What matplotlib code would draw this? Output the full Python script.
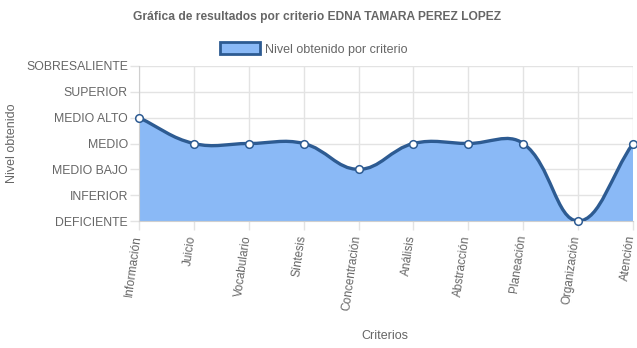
import numpy as np
import matplotlib.pyplot as plt
import matplotlib.transforms as mtransforms
from matplotlib.path import Path
from matplotlib.patches import PathPatch, Patch

plt.rcParams['font.family'] = ['Liberation Sans', 'DejaVu Sans']

# data
criterios = ['Información', 'Juicio', 'Vocabulario', 'Síntesis', 'Concentración',
             'Análisis', 'Abstracción', 'Planeación', 'Organización', 'Atención']
niveles = ['DEFICIENTE', 'INFERIOR', 'MEDIO BAJO', 'MEDIO', 'MEDIO ALTO',
           'SUPERIOR', 'SOBRESALIENTE']
valores = [4, 3, 3, 3, 2, 3, 3, 3, 0, 3]

fill_color = '#8ab9f6'
line_color = '#2d5b92'
grid_color = '#e3e3e3'
text_color = '#666666'

W, H = 637, 348
fig = plt.figure(figsize=(W / 100, H / 100), dpi=100)
left, right, top, bottom = 139, 633, 66, 221
ax = fig.add_axes([left / W, 1 - bottom / H, (right - left) / W, (bottom - top) / H])

n = len(criterios)
ax.set_xlim(0, n - 1)
ax.set_ylim(0, len(niveles) - 1)

# pixel scale used for the spline tension (chart.js style)
sx = (right - left) / (n - 1)
sy = (bottom - top) / (len(niveles) - 1)
xs = np.arange(n, dtype=float)
ys = np.array(valores, dtype=float)
px = xs * sx
py = ys * sy


def control_points(i, t=0.4):
    p0 = i - 1 if i > 0 else i
    p2 = i + 1 if i < n - 1 else i
    d01 = np.hypot(px[i] - px[p0], py[i] - py[p0])
    d12 = np.hypot(px[p2] - px[i], py[p2] - py[i])
    tot = d01 + d12
    s01 = d01 / tot if tot else 0
    s12 = d12 / tot if tot else 0
    fa, fb = t * s01, t * s12
    dx, dy = px[p2] - px[p0], py[p2] - py[p0]
    prev = ((px[i] - fa * dx) / sx, (py[i] - fa * dy) / sy)
    nxt = ((px[i] + fb * dx) / sx, (py[i] + fb * dy) / sy)
    lo, hi = 0, len(niveles) - 1
    prev = (prev[0], min(max(prev[1], lo), hi))
    nxt = (nxt[0], min(max(nxt[1], lo), hi))
    return prev, nxt


cps = [control_points(i) for i in range(n)]
verts = [(xs[0], ys[0])]
codes = [Path.MOVETO]
for i in range(n - 1):
    verts += [cps[i][1], cps[i + 1][0], (xs[i + 1], ys[i + 1])]
    codes += [Path.CURVE4] * 3

curve = Path(verts, codes)
area = Path(verts + [(xs[-1], 0), (xs[0], 0), (xs[0], ys[0])],
            codes + [Path.LINETO, Path.LINETO, Path.CLOSEPOLY])

ax.add_patch(PathPatch(area, facecolor=fill_color, edgecolor='none', zorder=2))
ax.add_patch(PathPatch(curve, facecolor='none', edgecolor=line_color, lw=2.4, zorder=3))
ax.plot(xs, ys, 'o', ms=5.5, mfc='white', mec=line_color, mew=1.1, zorder=4, clip_on=False)

ax.set_xticks(xs)
ax.set_xticklabels([])
# rotated category labels, nudged left of the tick
lab_tr = ax.get_xaxis_transform() + mtransforms.ScaledTranslation(-3 / 100, -14 / 100, fig.dpi_scale_trans)
for x, name in zip(xs, criterios):
    ax.text(x, 0, name, transform=lab_tr, rotation=82, ha='right', va='center_baseline',
            rotation_mode='anchor', color=text_color, fontsize=8.5)
ax.set_yticks(range(len(niveles)))
ax.set_yticklabels(niveles, color=text_color, fontsize=8.8)
ax.tick_params(axis='both', length=6.5, color=grid_color, width=1, pad=1.5)
ax.grid(True, color=grid_color, lw=1, zorder=0)
ax.set_axisbelow(True)
for s in ax.spines.values():
    s.set_visible(False)
ax.spines['left'].set_visible(True)
ax.spines['left'].set_color('#cfcfcf')
ax.spines['bottom'].set_visible(True)
ax.spines['bottom'].set_color('#cfcfcf')

fig.text(317 / W, 1 - 17 / H, 'Gráfica de resultados por criterio EDNA TAMARA PEREZ LOPEZ',
         ha='center', va='center', fontsize=8.65, fontweight='bold', color=text_color)
fig.text(12 / W, 1 - 143 / H, 'Nivel obtenido', rotation=90, ha='center', va='center',
         fontsize=9, color=text_color)
fig.text(385 / W, 1 - 336 / H, 'Criterios', ha='center', va='center',
         fontsize=9, color=text_color)

handle = Patch(facecolor=fill_color, edgecolor=line_color, lw=2)
fig.legend([handle], ['Nivel obtenido por criterio'], loc='center',
           bbox_to_anchor=(314 / W, 1 - 49 / H), frameon=False, fontsize=9,
           handlelength=3.2, handleheight=1.1, labelcolor=text_color, handletextpad=0.4)

fig.savefig('out.png', dpi=100)
